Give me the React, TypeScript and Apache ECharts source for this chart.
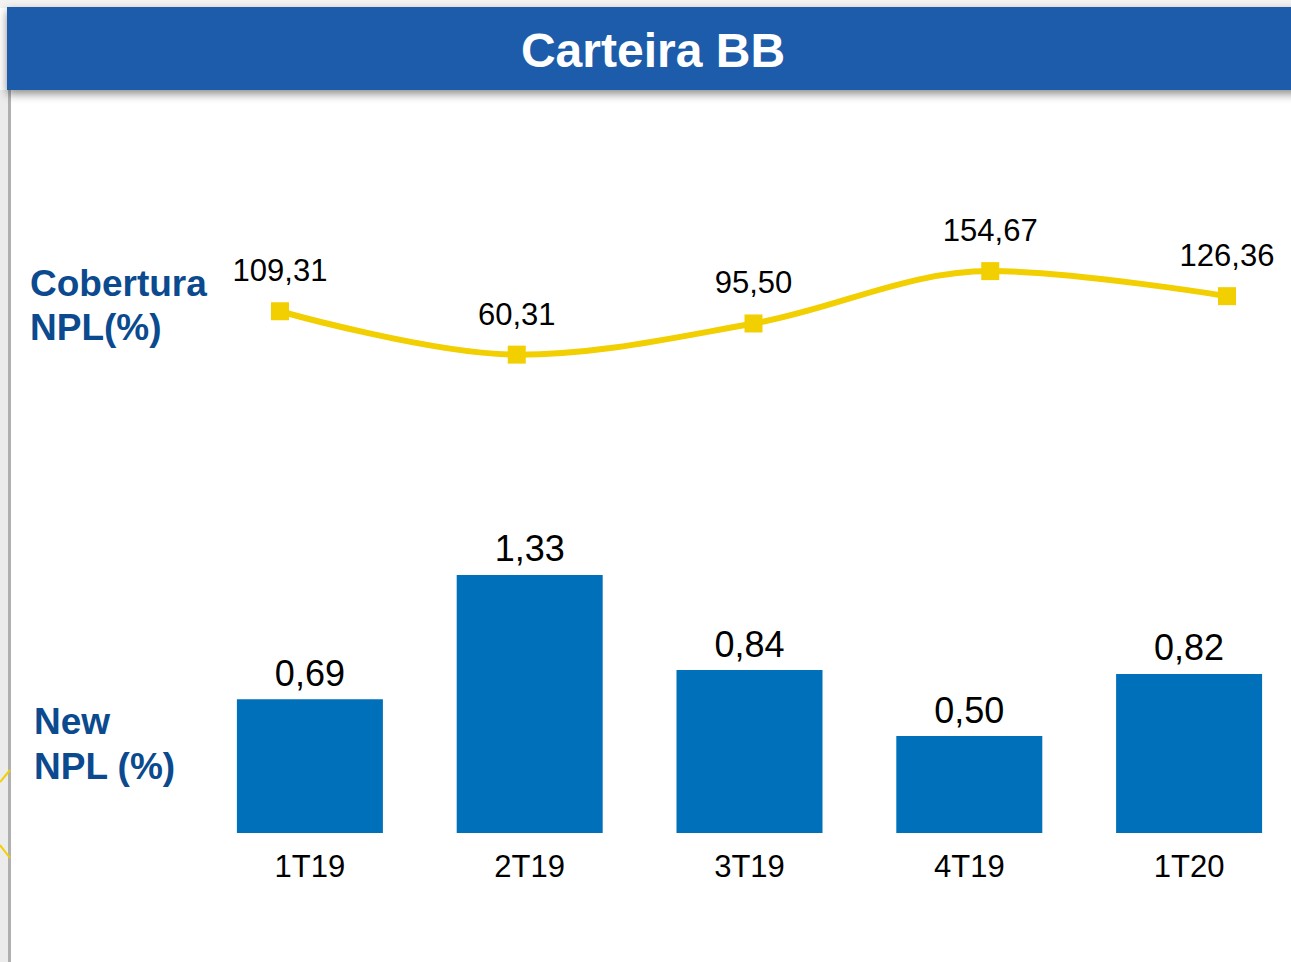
import React, { useEffect, useRef } from "react";
import * as echarts from "echarts";

const categories = ["1T19", "2T19", "3T19", "4T19", "1T20"];
const coberturaValues = [109.31, 60.31, 95.5, 154.67, 126.36];
const newNplValues = [0.69, 1.33, 0.84, 0.5, 0.82];
const titleText = "Carteira BB";
const coberturaLabel = "Cobertura\nNPL(%)";
const newNplLabel = "New\nNPL (%)";

const FONT = "'Liberation Sans', Arial, sans-serif";
const fmt = (v: number) => v.toFixed(2).replace(".", ",");

export default function App() {
  const ref = useRef<HTMLDivElement>(null);
  useEffect(() => {
    if (!ref.current) return;
    const chart = echarts.init(ref.current, undefined, { renderer: "svg" });
    chart.setOption({
      animation: false,
      backgroundColor: "#ffffff",
      grid: [
        { left: 280, width: 947, top: 231, height: 177 },
        { left: 200, width: 1099, top: 445, height: 388 },
      ],
      xAxis: [
        {
          type: "category",
          gridIndex: 0,
          data: categories,
          boundaryGap: false,
          show: false,
        },
        {
          type: "category",
          gridIndex: 1,
          data: categories,
          axisLine: { show: false },
          axisTick: { show: false },
          axisLabel: {
            color: "#000000",
            fontSize: 31,
            fontFamily: FONT,
            margin: 18,
          },
        },
      ],
      yAxis: [
        { type: "value", gridIndex: 0, min: 0, max: 200, show: false },
        { type: "value", gridIndex: 1, min: 0, max: 2, show: false },
      ],
      graphic: [
        {
          type: "rect",
          shape: { x: 0, y: 0, width: 1320, height: 8 },
          style: { fill: "#f2f2f2" },
          z: 0,
        },
        {
          type: "rect",
          shape: { x: 8, y: 90, width: 3, height: 872 },
          style: { fill: "#b0b0b0" },
          z: 0,
        },
        {
          type: "rect",
          shape: { x: 0, y: 90, width: 8, height: 872 },
          style: { fill: "#ececec" },
          z: 0,
        },
        {
          type: "polyline",
          shape: { points: [[10, 770], [0, 782]] },
          style: { stroke: "#f2cf00", lineWidth: 2 },
          z: 1,
        },
        {
          type: "polyline",
          shape: { points: [[0, 845], [10, 858]] },
          style: { stroke: "#f2cf00", lineWidth: 2 },
          z: 1,
        },
        {
          type: "rect",
          shape: { x: 7, y: 7, width: 1313, height: 83 },
          style: {
            fill: "#1b5caa",
            shadowBlur: 10,
            shadowOffsetY: 4,
            shadowColor: "rgba(0,0,0,0.45)",
          },
          z: 2,
        },
        {
          type: "text",
          x: 653,
          y: 50,
          z: 3,
          style: {
            text: titleText,
            fill: "#ffffff",
            font: `bold 48px ${FONT}`,
            align: "center",
            verticalAlign: "middle",
          },
        },
        {
          type: "text",
          x: 30,
          y: 305,
          z: 3,
          style: {
            text: coberturaLabel,
            fill: "#0b4a8e",
            font: `bold 37px ${FONT}`,
            lineHeight: 44,
            align: "left",
            verticalAlign: "middle",
          },
        },
        {
          type: "text",
          x: 34,
          y: 744,
          z: 3,
          style: {
            text: newNplLabel,
            fill: "#0b4a8e",
            font: `bold 37px ${FONT}`,
            lineHeight: 45,
            align: "left",
            verticalAlign: "middle",
          },
        },
      ],
      series: [
        {
          type: "line",
          xAxisIndex: 0,
          yAxisIndex: 0,
          data: coberturaValues,
          smooth: 0.35,
          symbol: "rect",
          symbolSize: 18,
          lineStyle: { color: "#f2cf00", width: 6 },
          itemStyle: { color: "#f2cf00" },
          label: {
            show: true,
            position: "top",
            distance: 16,
            color: "#000000",
            fontSize: 31,
            fontFamily: FONT,
            formatter: (p: any) => fmt(p.value),
          },
          z: 5,
        },
        {
          type: "bar",
          xAxisIndex: 1,
          yAxisIndex: 1,
          data: newNplValues,
          barWidth: 146,
          itemStyle: { color: "#0070ba" },
          label: {
            show: true,
            position: "top",
            distance: 8,
            color: "#000000",
            fontSize: 36,
            fontFamily: FONT,
            formatter: (p: any) => fmt(p.value),
          },
        },
      ],
    });
    return () => chart.dispose();
  }, []);
  return (
    <div
      style={{
        position: "absolute",
        left: 0,
        top: 0,
        width: 1291,
        height: 962,
        overflow: "hidden",
      }}
    >
      <div ref={ref} style={{ width: 1320, height: 962 }} />
    </div>
  );
}
